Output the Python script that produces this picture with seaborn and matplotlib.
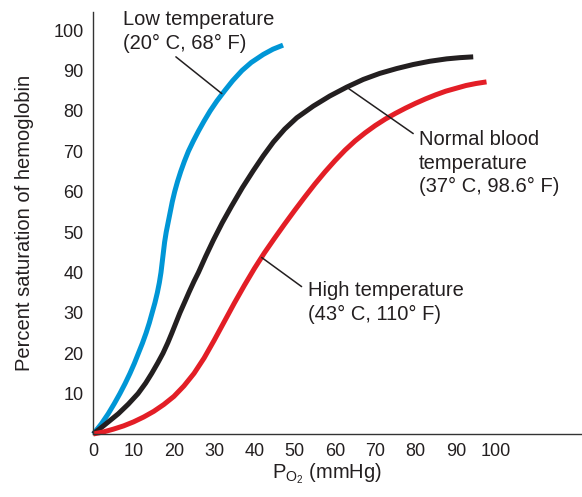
import pandas as pd
import matplotlib
matplotlib.use("Agg")
import matplotlib.pyplot as plt
import seaborn as sns

# values (PO2 in mmHg, % saturation)
low_po2 = [0, 2.0, 3.7, 5.2, 6.6, 7.9, 9.1, 10.2, 11.2, 12.2, 13.1, 13.9, 14.6, 15.3, 15.9, 16.4, 16.8,
           17.1, 17.4, 17.7, 18.1, 18.6, 19.1, 19.6, 20.2, 20.9, 21.7, 22.6, 23.6, 24.8, 26.1, 27.5,
           29.0, 30.7, 32.6, 34.6, 36.9, 39.2, 42.2, 44.6, 47.1]
low_sat = [0, 2.5, 5, 7.5, 10, 12.5, 15, 17.5, 20, 22.5, 25, 27.5, 30, 32.5, 35, 37.5, 40,
           42.5, 45, 47.5, 50, 52.5, 55, 57.5, 60, 62.5, 65, 67.5, 70, 72.5, 75, 77.5,
           80, 82.5, 85, 87.5, 90, 92, 94, 95.3, 96.3]

normal_po2 = [0, 3, 6.2, 8.7, 11.1, 13, 14.5, 16, 17.3, 18.5, 19.5, 20.5, 21.5, 22.7, 23.8, 25, 26.1,
              27.9, 29.8, 32, 34.3, 37, 39.7, 42.2, 44.7, 47.5, 50.5, 54.6, 58.7, 62.9, 67, 71.1,
              75.3, 79.4, 83.5, 87.7, 91, 94.3]
normal_sat = [0, 2.4, 5, 7.4, 10, 12.6, 15, 17.6, 20, 22.6, 25, 27.5, 30, 32.7, 35.2, 37.8, 40,
              44, 48, 52.3, 56.4, 61.0, 65.2, 68.9, 72.3, 75.5, 78.3, 81.2, 83.7, 85.9, 87.8, 89.3,
              90.5, 91.5, 92.3, 92.9, 93.2, 93.4]

high_po2 = [0, 2.5, 5, 7.5, 10, 12.5, 15, 17.5, 20, 22.5, 25, 27.5, 30, 32.5, 35, 37.5, 40, 42.5,
            45, 47.5, 50, 52.5, 55, 57.5, 60, 62.5, 65, 67.5, 70, 72.5, 75, 77.5, 80, 82.5, 85,
            87.5, 90, 92.5, 95, 97.6]
high_sat = [0, 0.5, 1.2, 2.0, 3.0, 4.2, 5.6, 7.3, 9.3, 11.9, 15.0, 18.8, 23.2, 27.8, 32.4, 36.8, 41.0, 44.9,
            48.5, 52.0, 55.4, 58.7, 61.9, 64.9, 67.7, 70.3, 72.6, 74.6, 76.4, 78.0, 79.4, 80.7, 81.9, 83.0, 84.0,
            84.9, 85.6, 86.3, 86.8, 87.2]

curve_names = ["low", "normal", "high"]
curve_colors = ["#0096d6", "#231f20", "#e31e26"]

x_ticks = [0, 10, 20, 30, 40, 50, 60, 70, 80, 90, 100]
y_ticks = [10, 20, 30, 40, 50, 60, 70, 80, 90, 100]

df = pd.concat([
    pd.DataFrame({"po2": low_po2, "sat": low_sat, "curve": "low"}),
    pd.DataFrame({"po2": normal_po2, "sat": normal_sat, "curve": "normal"}),
    pd.DataFrame({"po2": high_po2, "sat": high_sat, "curve": "high"}),
])

sns.set_theme(style="white")
plt.rcParams["font.family"] = ["Liberation Sans", "DejaVu Sans"]
plt.rcParams["mathtext.fontset"] = "custom"
plt.rcParams["mathtext.rm"] = "Liberation Sans"
plt.rcParams["mathtext.it"] = "Liberation Sans"

ink = "#231f20"

fig = plt.figure(figsize=(5.82, 4.97), dpi=100)
ax = fig.add_axes([0.1603, 0.1268, 0.8397, 0.849])

sns.lineplot(data=df, x="po2", y="sat", hue="curve", hue_order=curve_names,
             palette=dict(zip(curve_names, curve_colors)), sort=False, estimator=None,
             linewidth=3.6, legend=False, ax=ax)
for ln in ax.lines:
    ln.set_solid_capstyle("butt")
    ln.set_solid_joinstyle("round")
    ln.set_clip_on(False)

ax.set_xlim(0, 121.3)
ax.set_ylim(0, 104.5)
ax.set_xticks(x_ticks)
ax.set_yticks(y_ticks)

for side in ["top", "right"]:
    ax.spines[side].set_visible(False)
for side in ["left", "bottom"]:
    ax.spines[side].set_color("#333333")
    ax.spines[side].set_linewidth(1.0)

ax.tick_params(direction="in", length=7.5, width=1, color="#333333",
               labelsize=13, labelcolor=ink)
ax.tick_params(axis="x", pad=6.5)
ax.tick_params(axis="y", pad=7.0)

ax.set_ylabel("Percent saturation of hemoglobin", fontsize=14.5, color=ink)
ax.yaxis.set_label_coords(-0.122, 0.5)
ax.set_xlabel(r"$\mathregular{P_{O_2}}$ (mmHg)", fontsize=14.5, color=ink)
ax.xaxis.set_label_coords(0.479, -0.066)

# labels and leader lines
txt = dict(fontsize=14.5, color=ink, ha="left", va="top", linespacing=1.3)
ax.text(7.4, 104.9, "Low temperature\n(20\u00b0 C, 68\u00b0 F)", **txt)
ax.text(80.9, 75.2, "Normal blood\ntemperature\n(37\u00b0 C, 98.6\u00b0 F)", **txt)
ax.text(53.4, 37.8, "High temperature\n(43\u00b0 C, 110\u00b0 F)", **txt)

leader = dict(arrowstyle="-", color=ink, lw=1.1, shrinkA=0, shrinkB=0)
ax.annotate("", xy=(31.9, 84.3), xytext=(20.5, 93.4), arrowprops=leader)
ax.annotate("", xy=(63.3, 85.6), xytext=(79.4, 74.4), arrowprops=leader)
ax.annotate("", xy=(41.8, 43.7), xytext=(51.7, 36.5), arrowprops=leader)

fig.savefig("out.png", dpi=100)
